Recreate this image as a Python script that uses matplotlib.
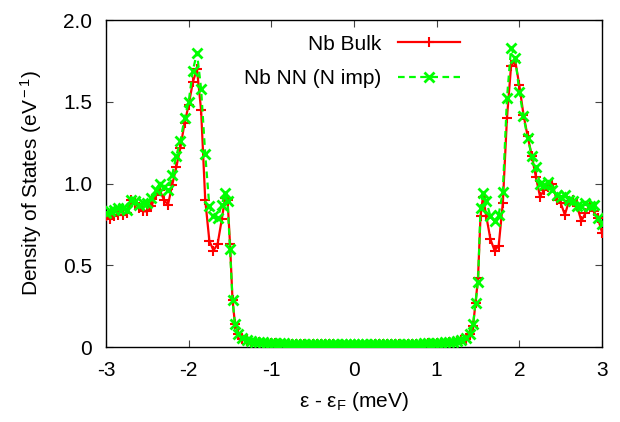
import numpy as np
import matplotlib
matplotlib.use("Agg")
import matplotlib.pyplot as plt

plt.rcParams['font.family'] = ['Liberation Sans', 'DejaVu Sans']
plt.rcParams['mathtext.fontset'] = 'custom'
plt.rcParams['mathtext.rm'] = 'Liberation Sans'
plt.rcParams['mathtext.it'] = 'Liberation Sans:italic'
plt.rcParams['axes.unicode_minus'] = False

# energy grid (meV)
energy_outer_left = np.round(np.arange(-3.00, -1.575, 0.05), 2)
energy_edge_left = [-1.56, -1.53, -1.50, -1.47, -1.44, -1.40]
energy_gap = np.round(np.arange(-1.35, 1.3501, 0.05), 2)
energy_edge_right = [1.40, 1.44, 1.47, 1.50, 1.53, 1.56]
energy_outer_right = np.round(np.arange(1.60, 3.0001, 0.05), 2)
energy = np.concatenate([energy_outer_left, energy_edge_left, energy_gap,
                         energy_edge_right, energy_outer_right])

gap_bulk = [0.052, 0.042, 0.036, 0.032, 0.029, 0.027, 0.025, 0.024, 0.023, 0.022,
            0.021, 0.020, 0.019, 0.019, 0.018, 0.018, 0.017, 0.017, 0.017, 0.016,
            0.016, 0.016, 0.016, 0.015, 0.015, 0.015, 0.015, 0.015,
            0.015, 0.015, 0.015, 0.015, 0.016, 0.016, 0.016, 0.016, 0.017, 0.017,
            0.017, 0.018, 0.018, 0.019, 0.019, 0.020, 0.021, 0.022, 0.023, 0.024,
            0.025, 0.027, 0.029, 0.032, 0.036, 0.042, 0.052]
gap_imp = [0.054, 0.043, 0.037, 0.033, 0.030, 0.028, 0.026, 0.025, 0.024, 0.023,
           0.022, 0.021, 0.020, 0.020, 0.019, 0.019, 0.018, 0.018, 0.018, 0.017,
           0.017, 0.017, 0.017, 0.016, 0.016, 0.016, 0.016, 0.016,
           0.016, 0.016, 0.016, 0.016, 0.017, 0.017, 0.017, 0.017, 0.018, 0.018,
           0.018, 0.019, 0.019, 0.020, 0.020, 0.021, 0.022, 0.023, 0.024, 0.025,
           0.026, 0.028, 0.030, 0.033, 0.037, 0.043, 0.054]

bulk_left = [0.80, 0.78, 0.80, 0.81, 0.81, 0.82, 0.90, 0.88, 0.85, 0.83,
             0.83, 0.86, 0.93, 0.96, 0.90, 0.87, 0.99, 1.10, 1.22, 1.37,
             1.48, 1.62, 1.70, 1.45, 0.90, 0.65, 0.59, 0.63, 0.78]
bulk_edge_left = [0.91, 0.90, 0.63, 0.29, 0.14, 0.08]
bulk_edge_right = [0.08, 0.13, 0.27, 0.42, 0.80, 0.92]
bulk_right = [0.80, 0.66, 0.59, 0.62, 0.88, 1.40, 1.72, 1.75, 1.60, 1.42,
              1.29, 1.17, 1.04, 0.92, 0.96, 0.98, 1.00, 0.90, 0.88, 0.81,
              0.89, 0.90, 0.86, 0.77, 0.82, 0.87, 0.83, 0.79, 0.70]

imp_left = [0.82, 0.83, 0.84, 0.85, 0.85, 0.84, 0.90, 0.89, 0.87, 0.88,
            0.88, 0.91, 0.96, 1.00, 0.98, 0.96, 1.05, 1.17, 1.26, 1.40,
            1.50, 1.69, 1.80, 1.58, 1.18, 0.86, 0.80, 0.79, 0.87]
imp_edge_left = [0.94, 0.89, 0.60, 0.29, 0.14, 0.08]
imp_edge_right = [0.08, 0.14, 0.27, 0.40, 0.85, 0.94]
imp_right = [0.89, 0.80, 0.77, 0.81, 0.95, 1.52, 1.83, 1.77, 1.56, 1.41,
             1.28, 1.17, 1.10, 1.00, 0.99, 1.01, 0.96, 0.93, 0.92, 0.93,
             0.90, 0.89, 0.86, 0.86, 0.88, 0.86, 0.87, 0.79, 0.75]

dos_bulk = np.concatenate([bulk_left, bulk_edge_left, gap_bulk, bulk_edge_right, bulk_right])
dos_imp = np.concatenate([imp_left, imp_edge_left, gap_imp, imp_edge_right, imp_right])

xticks = [-3, -2, -1, 0, 1, 2, 3]
xticklabels = ['-3', '-2', '-1', '0', '1', '2', '3']
yticks = [0, 0.5, 1.0, 1.5, 2.0]
yticklabels = ['0', '0.5', '1.0', '1.5', '2.0']

fs = 15

fig = plt.figure(figsize=(6.2, 4.22), dpi=100)
ax = fig.add_axes([0.171, 0.1777, 0.971 - 0.171, 0.9526 - 0.1777])

ax.plot(energy, dos_bulk, color='#ff0000', lw=1.6, marker='+', ms=7, mew=1.5,
        label='Nb Bulk', zorder=3)
ax.plot(energy, dos_imp, color='#00ff00', lw=1.6, ls=(0, (3, 2)), marker='x', ms=6.5,
        mew=2.0, label='Nb NN (N imp)', zorder=4)

ax.set_xlim(-3, 3)
ax.set_ylim(0, 2.0)
ax.set_xticks(xticks)
ax.set_xticklabels(xticklabels)
ax.set_yticks(yticks)
ax.set_yticklabels(yticklabels)
ax.tick_params(direction='in', length=5, width=0.8, top=True, right=True,
               labelsize=fs, pad=10, color='#444444')
for sp in ax.spines.values():
    sp.set_linewidth(1.0)

ax.set_xlabel(r'ε - ε$_{\rm F}$ (meV)', fontsize=fs, labelpad=7)
ax.set_ylabel(r'Density of States (eV$^{\rm -1}$)', fontsize=fs, labelpad=14)

leg = ax.legend(loc='upper right', bbox_to_anchor=(0.714, 0.955), frameon=False,
                markerfirst=False, numpoints=1, handlelength=3.0, handletextpad=0.8,
                labelspacing=0.75, borderpad=0, borderaxespad=0, fontsize=fs)

fig.savefig('out.png', dpi=100)
